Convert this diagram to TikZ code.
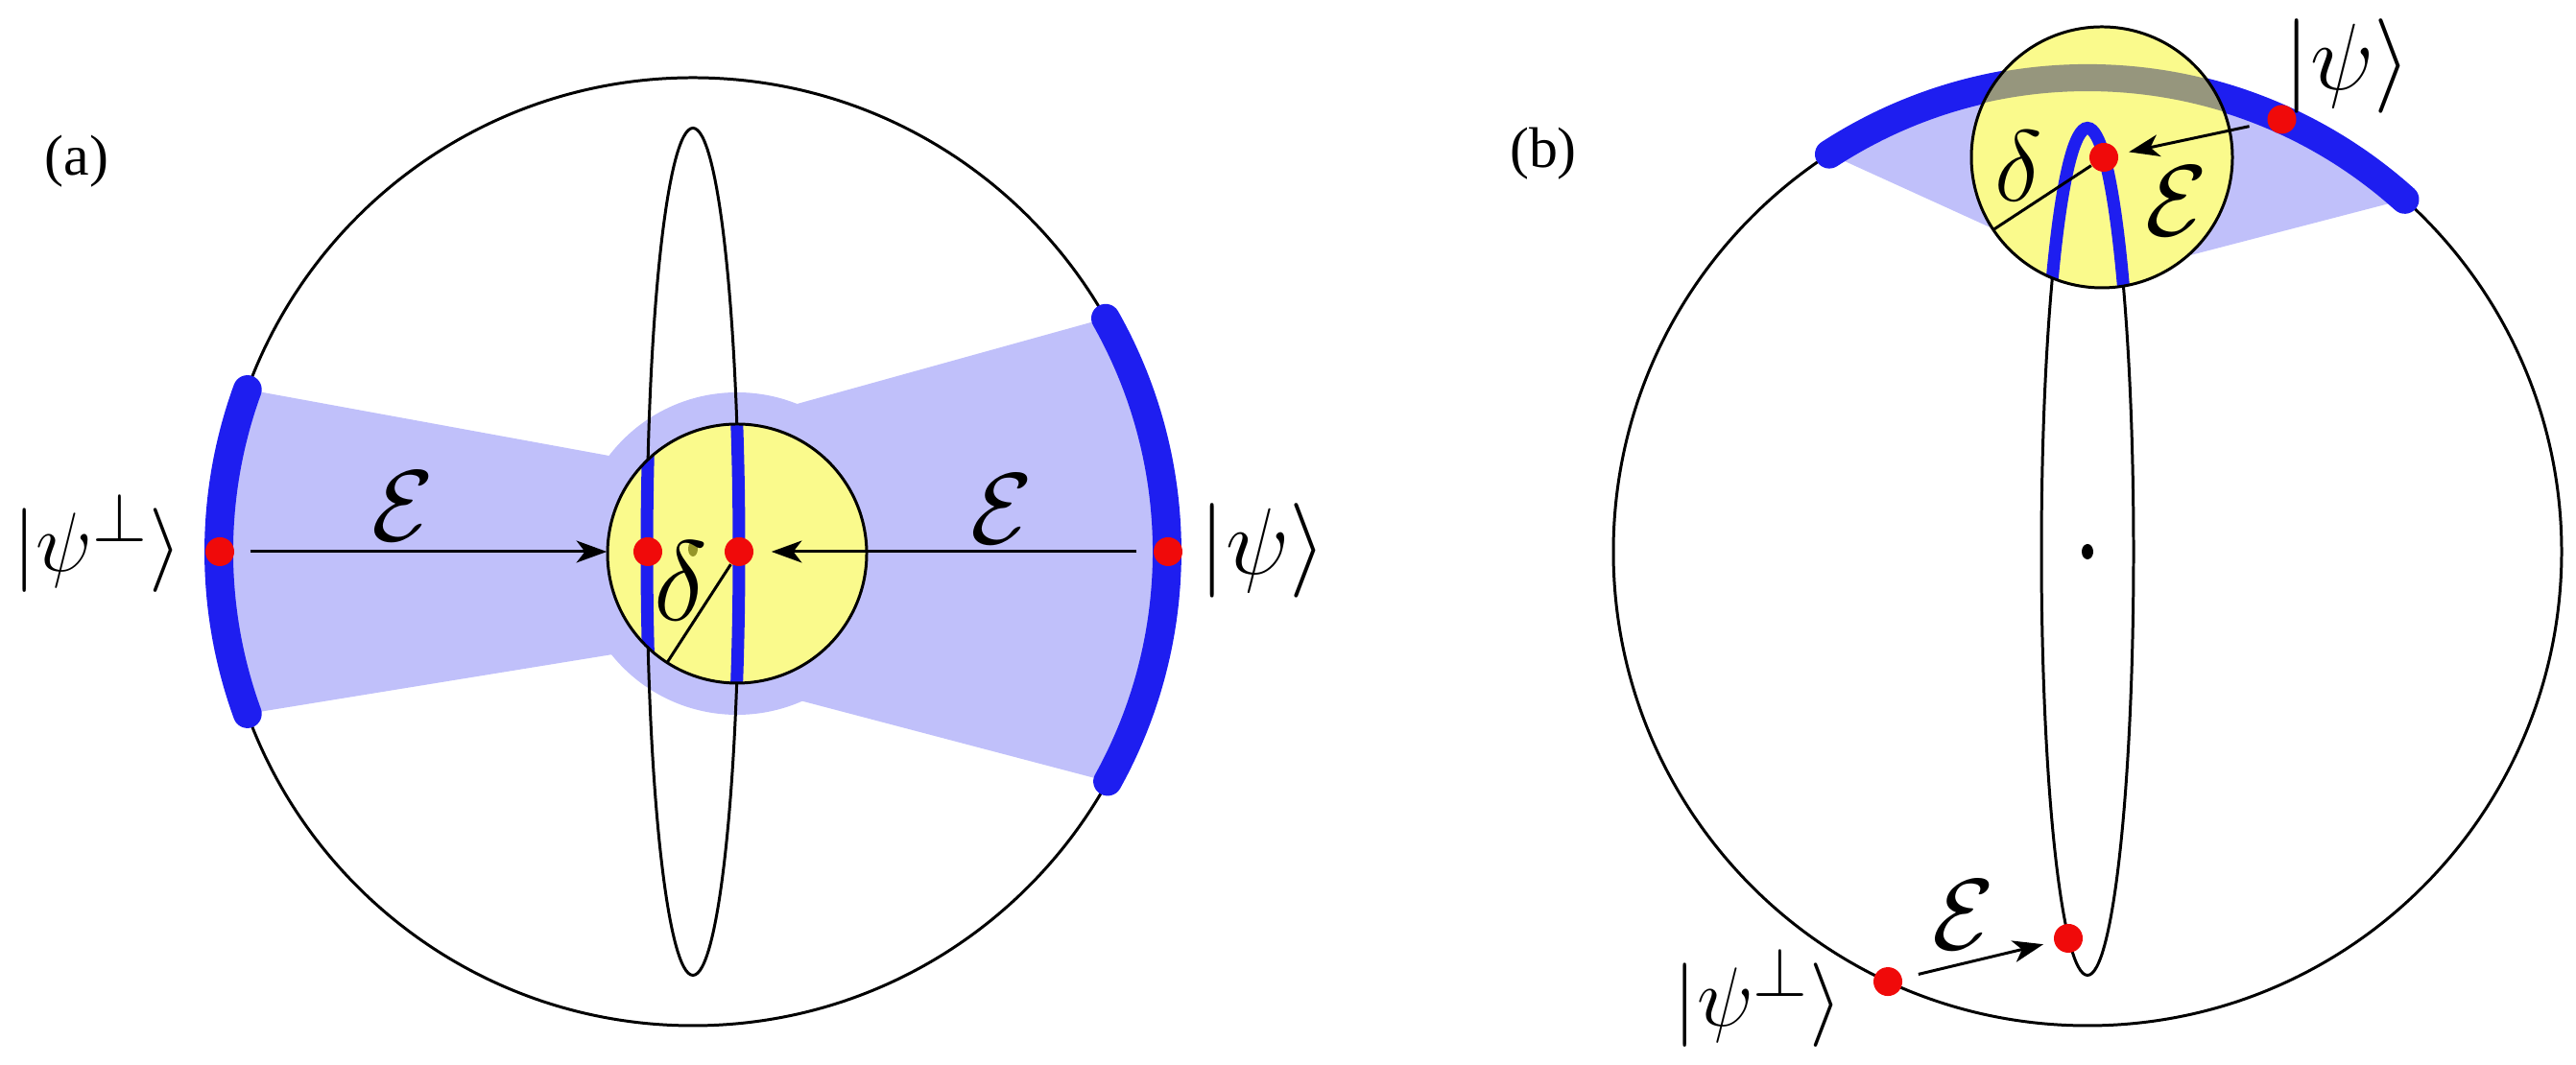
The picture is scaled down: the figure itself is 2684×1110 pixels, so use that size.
\documentclass[tikz,border=0pt]{standalone}
\usepackage{fontspec}
\newfontfamily\timesfont{Liberation Serif}
\usetikzlibrary{arrows.meta}
\definecolor{lav}{RGB}{192,192,250}
\definecolor{yel}{RGB}{250,250,140}
\definecolor{bblue}{RGB}{30,30,240}
\definecolor{rred}{RGB}{240,10,10}
\definecolor{gband}{RGB}{150,150,125}
\definecolor{olivedot}{RGB}{150,150,40}
\begin{document}
\begin{tikzpicture}[x=0.01cm,y=0.01cm,
  outline/.style={draw=black,line width=0.85pt},
  thickarc/.style={draw=bblue,line width=8.5pt,line cap=round},
  blueline/.style={draw=bblue,line width=3.7pt},
  reddot/.style={circle,fill=rred,minimum size=0.3cm,inner sep=0pt},
  arr/.style={draw=black,line width=0.85pt,-{Stealth[length=9pt,width=6.5pt,inset=2.5pt]}},
  lab/.style={inner sep=0pt,font=\Huge,scale=1.125},
  perplab/.style={inner sep=0pt,font=\Huge,scale=1.0},
  calE/.style={inner sep=0pt,font=\Huge,scale=1.2},
  panel/.style={inner sep=0pt,font=\timesfont\fontsize{17}{20}\selectfont}]
\useasboundingbox (0,0) rectangle (2684,1110);

% ---------------- panel (a)
\coordinate (A) at (722,535);
\coordinate (Ya) at (768,533);
\fill[lav] (Ya) circle (168);
\fill[lav] ([shift={(A)}]160:494) arc[start angle=160,end angle=200,radius=494] -- (700,438) -- (700,623) -- cycle;
\fill[lav] ([shift={(A)}]-29:494) arc[start angle=-29,end angle=29.5,radius=494] -- (780,675) -- (780,394) -- cycle;
\draw[outline] (A) circle (494);
\draw[outline] (A) ellipse [x radius=48,y radius=441.5];
\draw[thickarc] ([shift={(A)}]160:494) arc[start angle=160,end angle=200,radius=494];
\draw[thickarc] ([shift={(A)}]-29:494) arc[start angle=-29,end angle=29.5,radius=494];
\fill[yel] (Ya) circle (135);
\fill[olivedot] (722,538) ellipse [x radius=5,y radius=8];
\begin{scope}
\clip (Ya) circle (135);
\draw[blueline] (A) ellipse [x radius=48,y radius=441.5];
\end{scope}
\draw[outline] (Ya) circle (135);
\coordinate (aD) at ([shift={(Ya)}]237.3:135);
\node[reddot] (aC) at (770,535) {};
\node[reddot] (aCL) at (675,535) {};
\node[reddot] (aL) at (229,535) {};
\node[reddot] (aR) at (1217,535) {};
\draw[outline] (aC) -- (aD);
\draw[arr,shorten <=0.16cm,shorten >=0.27cm] (aL) -- (aCL);
\draw[arr,shorten <=0.17cm,shorten >=0.18cm] (aR) -- (aC);
\node[perplab,anchor=base east] (lpA) at (190,514) {$|\psi^{\perp}\rangle$};
\node[lab,anchor=base west] (lqA) at (1249,511) {$|\psi\rangle$};
\node[calE] (eA1) at (420,582) {$\mathcal{E}$};
\node[calE] (eA2) at (1044,579) {$\mathcal{E}$};
\node[inner sep=0pt,font=\Huge,scale=1.35] (dA) at (709,504) {$\delta$};
\node[panel] (pa) at (80,942) {(a)};

% ---------------- panel (b)
\coordinate (B) at (2175,535);
\coordinate (Yb) at (2190,946);
\fill[lav] ([shift={(B)}]48:494) arc[start angle=48,end angle=123,radius=494] -- (2190,820) -- cycle;
\draw[outline] (B) circle (494);
\draw[outline] (B) ellipse [x radius=48,y radius=441.5];
\draw[thickarc] ([shift={(B)}]48:494) arc[start angle=48,end angle=123,radius=494];
\fill[yel] (Yb) circle (136);
\begin{scope}
\clip (Yb) circle (136);
\draw[draw=gband,line width=8pt] (B) circle (494);
\draw[blueline] (B) ellipse [x radius=48,y radius=441.5];
\end{scope}
\draw[outline] (Yb) circle (136);
\coordinate (bD) at ([shift={(Yb)}]213.7:136);
\node[reddot] (bC) at (2192,946) {};
\draw[outline] (bC) -- (bD);
\node[reddot] (bP) at ([shift={(B)}]65.8:494) {};
\fill[black] (B) ellipse [x radius=6,y radius=8];
\node[reddot] (bE) at (2155,132) {};
\node[reddot] (bQ) at ([shift={(B)}]245.1:494) {};
\draw[arr,shorten <=0.19cm,shorten >=0.11cm] (bP) -- (bC);
\draw[arr,shorten <=0.17cm,shorten >=0.11cm] (bQ) -- (bE);
\node[calE] (dB) at (2103,937) {$\delta$};
\node[calE] (eB1) at (2268,900) {$\mathcal{E}$};
\node[calE] (eB2) at (2046,156) {$\mathcal{E}$};
\node[lab,anchor=base west] (lqB) at (2379,1016) {$|\psi\rangle$};
\node[perplab,anchor=base west] (lpB) at (1743,40) {$|\psi^{\perp}\rangle$};
\node[panel] (pb) at (1608,950) {(b)};
\end{tikzpicture}
\end{document}
